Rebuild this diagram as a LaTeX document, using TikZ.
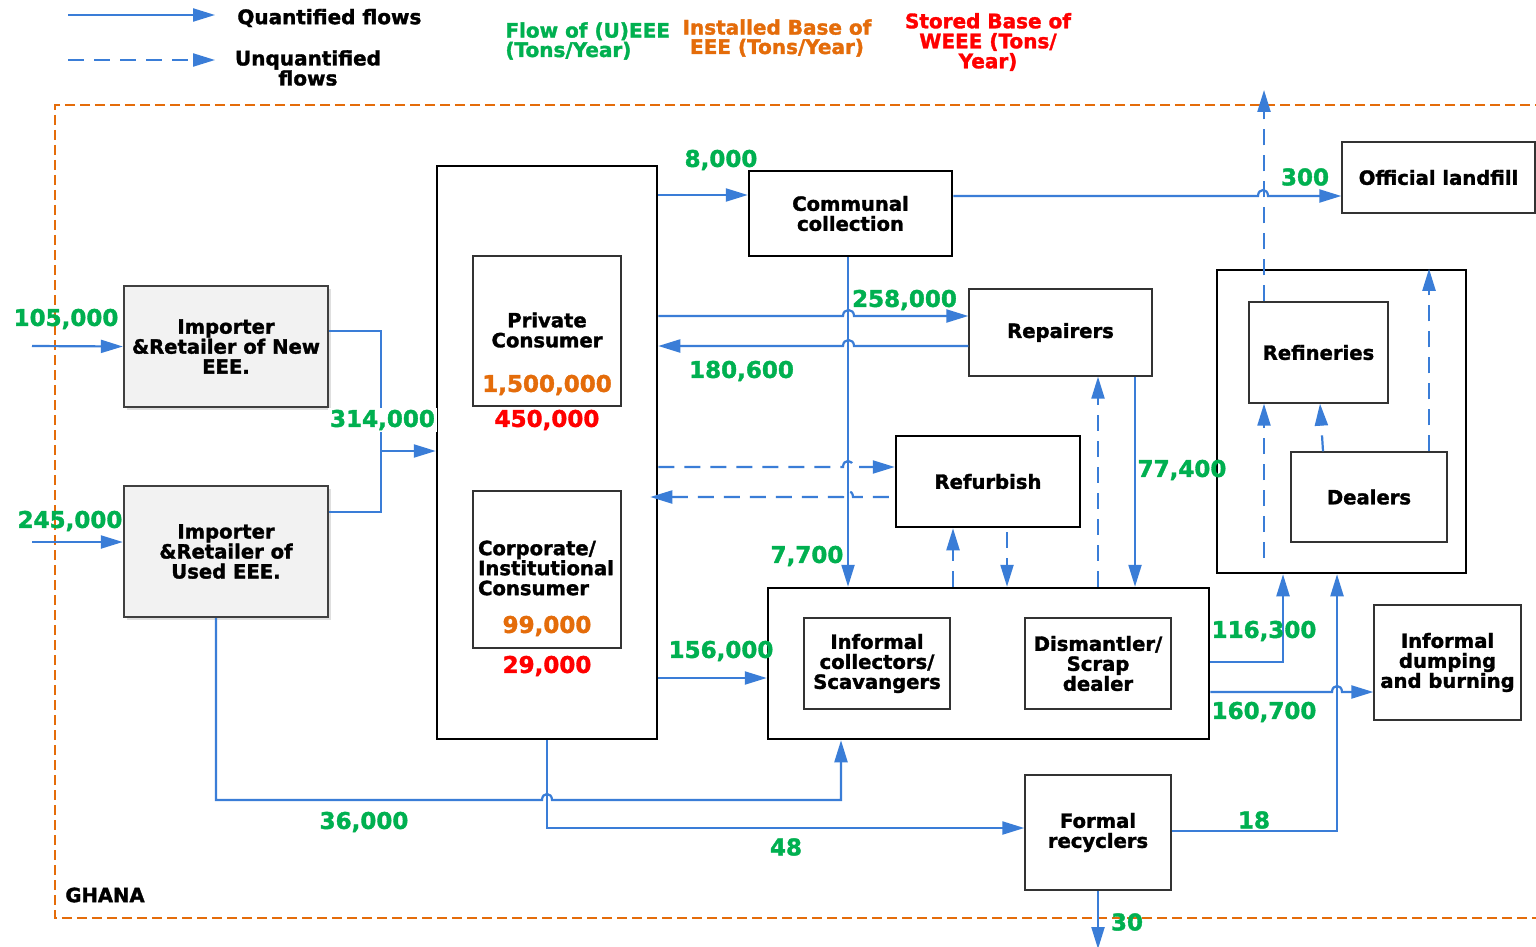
\documentclass[tikz,border=0pt]{standalone}
\usepackage{fontspec}
\setmainfont{DejaVu Sans}[BoldFeatures={FakeBold=1.6}]
\usetikzlibrary{arrows.meta,shadows}
\definecolor{flowblue}{RGB}{58,125,215}
\definecolor{numgreen}{RGB}{0,176,80}
\definecolor{numorange}{RGB}{228,108,10}
\definecolor{numred}{RGB}{255,0,0}
\definecolor{ghanaorange}{RGB}{228,108,10}
\newcommand{\bxfont}{\fontsize{9.8}{10}\selectfont\bfseries}
\newcommand{\nmfont}{\fontsize{11.5}{12}\selectfont\bfseries}
\newcommand{\hdfont}{\fontsize{10}{9.7}\selectfont\bfseries}
\begin{document}
\begin{tikzpicture}[x=0.5pt,y=-0.5pt,
  box/.style={draw=black, line width=1.25pt, inner sep=0pt, align=center, font=\bxfont},
  thinbox/.style={box, draw=black!80, line width=0.7pt},
  imp/.style={box, draw=black!75, fill=black!5, line width=1.2pt,
     drop shadow={opacity=0.25, shadow xshift=1.5pt, shadow yshift=-1.5pt}},
  flowline/.style={draw=flowblue, line width=1.1pt},
  flow/.style={flowline, -{Triangle[length=11pt,width=6.5pt]}},
  uflow/.style={flow, dash pattern=on 8pt off 5pt},
  num/.style={font=\nmfont, text=numgreen, inner sep=1pt},
  hdr/.style={font=\hdfont, inner sep=0pt},
  ghana/.style={draw=ghanaorange, line width=1.1pt, dash pattern=on 5pt off 2.5pt}]
\clip (0,0) rectangle (1536,947);
\fill[white] (0,0) rectangle (1536,947);

% legend
\coordinate (lq1) at (68,15); \coordinate (lq2) at (215,15);
\coordinate (lu1) at (68,60); \coordinate (lu2) at (215,60);
\draw[flow] (lq1) -- (lq2);
\draw[uflow] (lu1) -- (lu2);
\node[hdr, anchor=west] (lqt) at (237,18) {Quantified flows};
\node[hdr, align=center, font=\fontsize{10}{10}\selectfont\bfseries] (lut) at (308,68) {Unquantified\\flows};

% header
\node[hdr, align=left, anchor=west, text=numgreen] (h1) at (505,41) {Flow of (U)EEE\\(Tons/Year)};
\node[hdr, align=center, text=numorange] (h2) at (777,38) {Installed Base of\\EEE (Tons/Year)};
\node[hdr, align=center, font=\fontsize{10}{10}\selectfont\bfseries, text=numred] (h3) at (988,42) {Stored Base of\\WEEE (Tons/\\Year)};

% Ghana border
\draw[ghana] (1545,105) -- (55,105) -- (55,918) -- (1545,918);
\node[hdr, anchor=west, font=\fontsize{9.8}{10}\selectfont\bfseries] (gh) at (65,895) {GHANA};

% boxes
\node[imp, minimum width=102pt, minimum height=60.5pt] (new) at (226,346.5) {Importer\\\&Retailer of New\\EEE.};
\node[imp, minimum width=102pt, minimum height=65.5pt] (used) at (226,551.5) {Importer\\\&Retailer of\\Used EEE.};
\node[box, minimum width=110pt, minimum height=286.5pt] (cons) at (547,452.5) {};
\node[thinbox, minimum width=74pt, minimum height=75pt] (priv) at (547,331) {};
\node[thinbox, minimum width=74pt, minimum height=78.5pt] (corp) at (547,569.5) {};
\node[box, minimum width=101.5pt, minimum height=42.5pt] (comm) at (850.5,213.5) {Communal\\collection};
\node[thinbox, minimum width=91.5pt, minimum height=43.5pt] (rep) at (1060.5,332.5) {Repairers};
\node[box, minimum width=92pt, minimum height=45.5pt] (refb) at (988,481.5) {Refurbish};
\node[box, minimum width=220.5pt, minimum height=75.5pt] (inf) at (988.5,663.5) {};
\node[thinbox, minimum width=73pt, minimum height=45.5pt] (infc) at (877,663.5) {Informal\\collectors/\\Scavangers};
\node[thinbox, minimum width=73pt, minimum height=45.5pt] (dism) at (1098,663.5) {Dismantler/\\Scrap\\dealer};
\node[thinbox, minimum width=96.5pt, minimum height=35.5pt] (land) at (1438.5,177.5) {Official landfill};
\node[box, minimum width=124.5pt, minimum height=151.5pt] (refg) at (1341.5,421.5) {};
\node[thinbox, minimum width=69.5pt, minimum height=50.5pt] (refi) at (1318.5,352.5) {Refineries};
\node[thinbox, minimum width=78pt, minimum height=45pt] (deal) at (1369,497) {Dealers};
\node[thinbox, minimum width=73.5pt, minimum height=57.5pt] (dump) at (1447.5,662.5) {Informal\\dumping\\and burning};
\node[thinbox, minimum width=73pt, minimum height=57.5pt] (formal) at (1098,832.5) {Formal\\recyclers};

% texts inside consumer boxes
\node[font=\bxfont, align=center, inner sep=0pt] (privt) at (547,330) {Private\\Consumer};
\node[font=\bxfont, align=left, inner sep=0pt] (corpt) at (546,568) {Corporate/\\Institutional\\Consumer};

% flows
\coordinate (in1) at (32,346);
\coordinate (in2) at (32,542);
\draw[flow] (in1) -- (new.west);
\draw[flow] (in2) -- (used.west |- 0,542);
\draw[flowline] (new.east |- 0,331) -- (381,331) -- (381,451);
\draw[flow] (used.east |- 0,512) -- (381,512) -- (381,451) -- (cons.west |- 0,451);
\draw[flow] (cons.east |- 0,195) -- (comm.west |- 0,195);
\draw[flow] (comm.east |- 0,196) -- (1258,196) .. controls (1258,188) and (1268,188) .. (1268,196) -- (land.west |- 0,196);
\draw[flow] (comm.south -| 848,0) -- (inf.north -| 848,0);
\draw[flow] (cons.east |- 0,316) -- (843,316) .. controls (843,308) and (854,308) .. (854,316) -- (rep.west |- 0,316);
\draw[flow] (rep.west |- 0,346) -- (854,346) .. controls (854,338) and (843,338) .. (843,346) -- (cons.east |- 0,346);
\draw[uflow] (cons.east |- 0,467) -- (843,467) .. controls (843,459) and (853,459) .. (853,467) -- (refb.west |- 0,467);
\draw[uflow] ([xshift=-3pt]refb.west |- 0,497) -- (853,497) .. controls (853,489) and (843,489) .. (843,497) -- ([xshift=-4pt]cons.east |- 0,497);
\draw[uflow] (inf.north -| 953,0) -- (refb.south -| 953,0);
\draw[uflow] ([yshift=-2pt]refb.south -| 1007,0) -- (inf.north -| 1007,0);
\draw[uflow] (inf.north -| 1098,0) -- (rep.south -| 1098,0);
\draw[flow] (rep.south -| 1135,0) -- (inf.north -| 1135,0);
\draw[flow] (cons.east |- 0,678) -- (inf.west |- 0,678);
\draw[flow] (inf.east |- 0,662) -| (refg.south -| 1283,0);
\draw[flow] (inf.east |- 0,692) -- (1332,692) .. controls (1332,684) and (1342,684) .. (1342,692) -- (dump.west |- 0,692);
\draw[flow] (formal.east |- 0,831) -| (refg.south -| 1337,0);
\draw[flow] (used.south -| 216,0) -- (216,800) -- (542,800) .. controls (542,792) and (552,792) .. (552,800) -- (841,800) -- (inf.south -| 841,0);
\draw[flow] (cons.south) -- (547,828) -- (formal.west |- 0,828);
\coordinate (out30) at (1098,949);
\draw[flow] (formal.south) -- (out30);
\coordinate (outup) at (1264,90);
\draw[uflow] (refi.north -| 1264,0) -- (outup);
\draw[uflow] (deal.north -| 1323,0) -- (refi.south -| 1320,0);
\draw[uflow] (deal.north -| 1429,0) -- (refg.north -| 1429,0);
\coordinate (rgin) at (1264,558);
\draw[uflow] (rgin) -- (refi.south -| 1264,0);

% numbers
\node[num] (n105) at (66,319) {105,000};
\node[num] (n245) at (70,521) {245,000};
\node[num, fill=white] (n314) at (382.5,420) {314,000};
\node[num] (n8) at (721,160) {8,000};
\node[num] (n300) at (1305,177) {300};
\node[num] (n258) at (904.5,300) {258,000};
\node[num] (n180) at (741.5,371) {180,600};
\node[num] (n77) at (807,556) {7,700};
\node[num] (n774) at (1182,470) {77,400};
\node[num] (n156) at (721,651) {156,000};
\node[num] (n116) at (1264,631) {116,300};
\node[num] (n160) at (1264,712) {160,700};
\node[num] (n18) at (1254,820) {18};
\node[num] (n36) at (364,822) {36,000};
\node[num] (n48) at (786,847) {48};
\node[num] (n30) at (1127,922) {30};
\node[num, text=numorange] (o1) at (547,385) {1,500,000};
\node[num, text=numred] (r1) at (547,420) {450,000};
\node[num, text=numorange] (o2) at (547,626) {99,000};
\node[num, text=numred] (r2) at (547,666) {29,000};
\end{tikzpicture}
\end{document}
